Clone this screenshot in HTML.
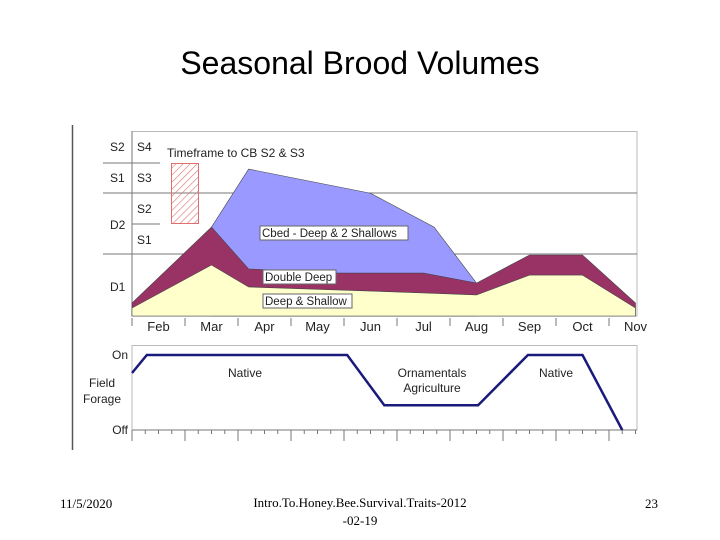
<!DOCTYPE html>
<html><head><meta charset="utf-8"><style>
body{margin:0;width:720px;height:540px;background:#fff;position:relative;overflow:hidden;font-family:"Liberation Sans",sans-serif}
#title{position:absolute;left:0;width:720px;top:45px;text-align:center;font-size:32px;color:#000}
.foot{position:absolute;font-family:"Liberation Serif",serif;font-size:13px;color:#000}
</style></head><body>
<div id="title">Seasonal Brood Volumes</div>
<svg id="chart" width="720" height="540" style="position:absolute;left:0;top:0" xmlns="http://www.w3.org/2000/svg">
<defs><pattern id="hatch" width="5" height="5" patternUnits="userSpaceOnUse" patternTransform="rotate(45)"><line x1="0" y1="0" x2="0" y2="5" stroke="#e07070" stroke-width="1.2"/></pattern></defs>
<rect x="72" y="125" width="574" height="325" fill="#fff"/>
<line x1="72.5" y1="125" x2="72.5" y2="450" stroke="#555" stroke-width="1.5"/>
<g id="topchart" font-size="12" fill="#222"></g>
<g id="bottomchart" font-size="12" fill="#222"></g>
</svg>
<div class="foot" style="left:60px;top:496px">11/5/2020</div>
<div class="foot" style="left:240px;top:494px;width:240px;text-align:center;line-height:18px">Intro.To.Honey.Bee.Survival.Traits-2012<br>-02-19</div>
<div class="foot" style="left:645px;top:496px">23</div>
<script>
const months=["Feb","Mar","Apr","May","Jun","Jul","Aug","Sep","Oct","Nov"];
const deepShallowX=[0,1.5,2.2,4.5,5.5,6.5,7.5,8.5,9.5];
const deepShallowV=[4.3,27.4,15.6,13.4,12.4,11.3,22,22,4.3];
const doubleDeepX=[0,1.5,2.2,3.8,5.5,6.5,7.5,8.5,9.5];
const doubleDeepV=[7,47.8,25.3,23.1,23.1,17.7,32.8,32.8,7];
const cbedX=[1.5,2.2,4.5,5.7,6.5];
const cbedV=[47.8,79,66,47.8,17.7];
const forageX=[0,0.28,4.06,4.76,6.53,7.47,8.5,9.25];
const forageV=[0.76,1,1,0.33,0.33,1,1,0];
const NS="http://www.w3.org/2000/svg";
const X0=132,MW=53,BASE=316,TOPY=130;
function sx(m){return X0+m*MW;}
function sy(v){return BASE-v*(BASE-TOPY)/100;}
function fy(v){return 430-v*75;}
function mk(tag,attrs,parent,txt){const e=document.createElementNS(NS,tag);for(const k in attrs)e.setAttribute(k,attrs[k]);if(txt!==undefined)e.textContent=txt;parent.appendChild(e);return e;}
const topG=document.getElementById('topchart'),botG=document.getElementById('bottomchart');
let e;
e=mk('rect',{x:132,y:131.5,width:505,height:184.5,fill:'none',stroke:'#bbb'},topG);


[[103,163,160],[103,193,637],[132,224,160],[103,254,637]].forEach(l=>{const g=mk('line',{x1:l[0],y1:l[1],x2:l[2],y2:l[1],stroke:'#777'},topG);

});
e=mk('line',{x1:132,y1:131,x2:132,y2:316,stroke:'#777'},topG);
function area(xs,vs,fill,name){let p=`${sx(xs[0])},${BASE} `+xs.map((x,i)=>`${sx(x)},${sy(vs[i])}`).join(' ')+` ${sx(xs[xs.length-1])},${BASE}`;
const g=mk('polygon',{points:p,fill:fill,stroke:'#444','stroke-width':0.6},topG);

}
area(cbedX,cbedV,'#9999ff','cbed-area');
area(doubleDeepX,doubleDeepV,'#993366','double-deep-area');
area(deepShallowX,deepShallowV,'#ffffcc','deep-shallow-area');
e=mk('rect',{x:171.5,y:163.5,width:27,height:60,fill:'url(#hatch)',stroke:'#e07070'},topG);


[["S2",110,151],["S1",110,182],["D2",110,229],["D1",110,291],["S4",137,151],["S3",137,182],["S2",137,213],["S1",137,244]].forEach(t=>{const g=mk('text',{x:t[1],y:t[2]},topG,t[0]);

});
e=mk('text',{x:167,y:157},topG,'Timeframe to CB S2 & S3');


[["Cbed - Deep & 2 Shallows",260,226,148],["Double Deep",263,270,73],["Deep & Shallow",263,294,89]].forEach(t=>{
const r=mk('rect',{x:t[1],y:t[2],width:t[3],height:14,fill:'#fff',stroke:'#666'},topG);


const g=mk('text',{x:t[1]+2,y:t[2]+11,'font-size':11.5},topG,t[0]);

});
months.forEach((m,i)=>{const g=mk('text',{x:sx(i+0.5),y:331,'text-anchor':'middle','font-size':13},topG,m);


const t=mk('line',{x1:sx(i),y1:318,x2:sx(i),y2:326,stroke:'#777'},topG);

});
e=mk('rect',{x:132,y:345.5,width:505,height:84.5,fill:'none',stroke:'#bbb'},botG);


e=mk('line',{x1:132,y1:430,x2:637,y2:430,stroke:'#777'},botG);
for(let k=0;k<=38;k++){const x=X0+k*MW/4;const t=mk('line',{x1:x,y1:430,x2:x,y2:k%4==0?441:434,stroke:'#777'},botG);

}
e=mk('polyline',{points:forageX.map((x,i)=>`${sx(x)},${fy(forageV[i])}`).join(' '),fill:'none',stroke:'#1a1a7a','stroke-width':2.5},botG);


[["On",128,359,'end'],["Off",128,434,'end'],["Field",102,387,'middle'],["Forage",102,403,'middle'],["Native",245,377,'middle'],["Ornamentals",432,377,'middle'],["Agriculture",432,392,'middle'],["Native",556,377,'middle']].forEach(t=>{
const g=mk('text',{x:t[1],y:t[2],'text-anchor':t[3]},botG,t[0]);

});
</script>
</body></html>
